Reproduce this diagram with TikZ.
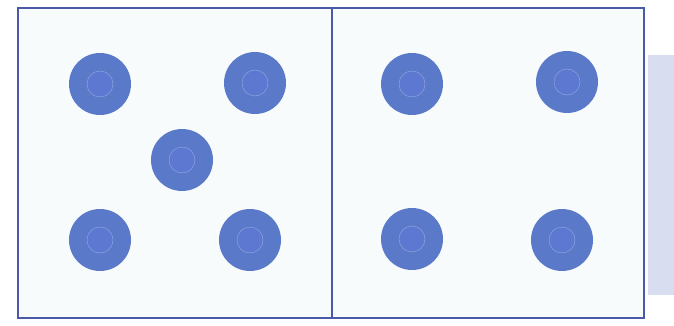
\documentclass[tikz,border=0pt]{standalone}
\begin{document}
\begin{tikzpicture}[x=1pt,y=-1pt,
  pip/.style={circle,fill=pipblue,minimum width=60pt,minimum height=62pt,inner sep=0pt,draw=none},
  pipcore/.style={circle,draw=pipedge,line width=0.5pt,fill=pipcore,minimum size=26pt,inner sep=0pt}]
\definecolor{pipblue}{HTML}{5B79C9}
\definecolor{pipcore}{HTML}{5C78D0}
\definecolor{pipedge}{HTML}{8EA4DE}
\definecolor{frameblue}{HTML}{4A5AA8}
\definecolor{sidestrip}{HTML}{D9DDF0}
\definecolor{paper}{HTML}{F8FBFB}
\useasboundingbox (0,0) rectangle (674,326);
\fill[white] (0,0) rectangle (674,326);
\fill[sidestrip] (648,55) rectangle (674,295);
\fill[paper] (18,8) rectangle (644,318);
\draw[frameblue,line width=2.4pt] (18,8) rectangle (644,318);
\draw[frameblue,line width=1.8pt] (332,8) -- (332,318);
\foreach \n/\x/\y in {l1/100/84,l2/255/83,l3/182/160,l4/100/240,l5/250/240,
                      r1/412/84,r2/567/82,r3/412/239,r4/562/240}{
  \node[pip] (\n) at (\x,\y) {};
  \node[pipcore] (\n c) at (\n) {};
}
\end{tikzpicture}
\end{document}
